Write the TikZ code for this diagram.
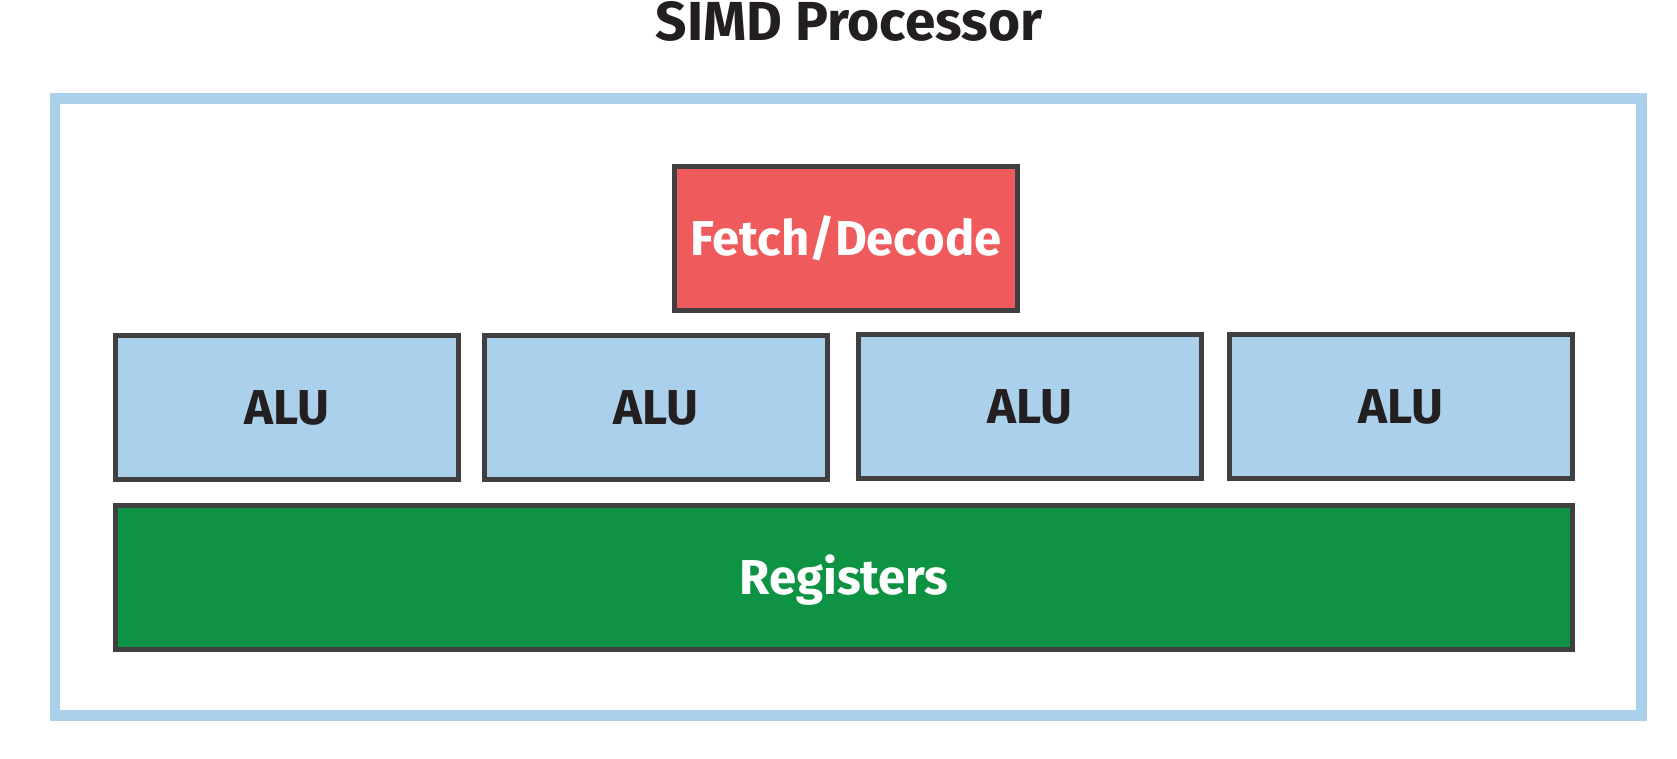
\documentclass[tikz,border=0pt]{standalone}
\usepackage{fontspec}
\setmainfont{Fira Sans}
\definecolor{lblue}{HTML}{ABD0EC}
\definecolor{fred}{HTML}{EF5A5C}
\definecolor{rgreen}{HTML}{0E9345}
\definecolor{edge}{HTML}{404040}
\definecolor{ink}{HTML}{231F20}
\tikzset{
  unit/.style={draw=edge, line width=5pt, minimum width=343pt, minimum height=144pt,
    inner sep=0pt, text height=34pt, text depth=0pt, font=\fontsize{49}{49}\selectfont\bfseries},
  alubox/.style={unit, fill=lblue, text=ink},
}
\begin{document}
\begin{tikzpicture}[x=1pt,y=-1pt]
\useasboundingbox (0,0) rectangle (1677,759);
\node[anchor=base, text=ink, font=\fontsize{55}{55}\selectfont\bfseries, inner sep=0pt] (title) at (849,41) {SIMD Processor};
\draw[lblue, line width=10.5pt] (55,98.5) rectangle (1641.5,715.5);
\node[unit, fill=fred, text=white] (fetch) at (846,238.5) {Fetch/Decode};
\node[alubox] (alu1) at (287,407.5) {ALU};
\node[alubox] (alu2) at (655.5,407.5) {ALU};
\node[alubox] (alu3) at (1029.6,406.3) {ALU};
\node[alubox] (alu4) at (1401.3,406.3) {ALU};
\node[unit, fill=rgreen, text=white, minimum width=1457pt] (regs) at (844,577) {Registers};
\end{tikzpicture}
\end{document}
